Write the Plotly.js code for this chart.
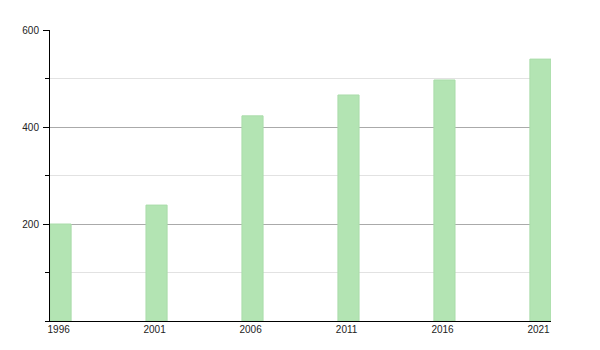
<!DOCTYPE html>
<html>
<head>
<meta charset="utf-8">
<script src="https://cdn.plot.ly/plotly-3.0.1.min.js"></script>
<style>html,body{margin:0;padding:0;background:#fff;}#chart{width:600px;height:350px;}</style>
</head>
<body>
<div id="chart"></div>
<script>
var years = [1996, 2001, 2006, 2011, 2016, 2021];
var values = [200, 239, 423, 466, 497, 540];
var yTicks = [200, 400, 600];

var trace = {
  type: 'bar',
  x: years,
  y: values,
  width: 1.1,
  offset: -0.45,
  marker: {color: '#b3e4b3', line: {color: '#aadcaa', width: 1}},
  hoverinfo: 'x+y'
};

var layout = {
  width: 600,
  height: 350,
  margin: {l: 50, r: 49, t: 30, b: 29},
  paper_bgcolor: '#ffffff',
  plot_bgcolor: '#ffffff',
  showlegend: false,
  font: {family: 'Liberation Sans, Arial, sans-serif', size: 10, color: '#222'},
  xaxis: {
    range: [1995.55, 2021.65],
    tickvals: years,
    ticktext: years.map(String),
    showgrid: false,
    zeroline: false,
    showline: true,
    linecolor: '#000',
    linewidth: 1,
    ticks: '',
    ticklen: 0,
    ticklabelstandoff: -1,
    tickfont: {size: 10, color: '#222'}
  },
  yaxis: {
    range: [0, 600],
    tickvals: yTicks,
    ticktext: yTicks.map(String),
    showgrid: true,
    gridcolor: '#aaaaaa',
    gridwidth: 1,
    zeroline: false,
    showline: true,
    linecolor: '#000',
    linewidth: 1,
    ticks: 'outside',
    ticklen: 6,
    tickcolor: '#000',
    ticklabelstandoff: 2,
    tickfont: {size: 10, color: '#222'},
    minor: {dtick: 100, tick0: 0, showgrid: true, gridcolor: '#e2e2e2', gridwidth: 1, ticks: 'outside', ticklen: 4, tickcolor: '#000'}
  }
};

Plotly.newPlot('chart', [trace], layout, {displayModeBar: false, staticPlot: true});
</script>
</body>
</html>
